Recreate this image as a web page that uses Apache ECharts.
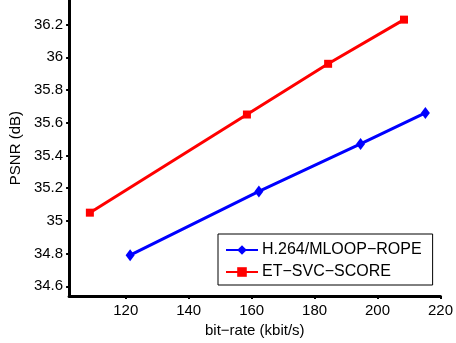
<!DOCTYPE html>
<html>
<head>
<meta charset="utf-8">
<script src="https://cdn.jsdelivr.net/npm/echarts@6/dist/echarts.min.js"></script>
<style>
  html, body { margin: 0; padding: 0; background: #fff; }
  #chart { width: 456px; height: 343px; }
</style>
</head>
<body>
<div id="chart"></div>
<script>
// values
const seriesNames = ['H.264/MLOOP\u2212ROPE', 'ET\u2212SVC\u2212SCORE']
const ropeRate = [121.4, 162.3, 194.6, 215.2]
const ropePsnr = [34.79, 35.18, 35.47, 35.66]
const scoreRate = [108.6, 158.5, 184.3, 208.4]
const scorePsnr = [35.05, 35.65, 35.96, 36.23]
const xTicks = [120, 140, 160, 180, 200, 220]
const yTicks = [34.6, 34.8, 35, 35.2, 35.4, 35.6, 35.8, 36, 36.2]

const font = 'Liberation Sans, Arial, Helvetica, sans-serif'

const chart = echarts.init(document.getElementById('chart'))

const pairs = (xs, ys) => xs.map((x, i) => [x, ys[i]])

const option = {
  animation: false,
  backgroundColor: '#fff',
  grid: { left: 69, right: 13, top: 0, bottom: 45 },
  xAxis: {
    type: 'value',
    min: 102,
    max: 220,
    name: 'bit\u2212rate (kbit/s)',
    nameLocation: 'middle',
    nameGap: 23,
    nameTextStyle: { color: '#000', fontSize: 15, fontFamily: font },
    splitLine: { show: false },
    axisLine: { show: true, onZero: false, lineStyle: { color: '#000', width: 3 } },
    axisTick: { show: true, length: 3, customValues: xTicks, lineStyle: { color: '#000', width: 2 } },
    axisLabel: { color: '#000', fontSize: 15, fontFamily: font, margin: 7, customValues: xTicks }
  },
  yAxis: {
    type: 'value',
    min: 34.54,
    max: 36.35,
    name: 'PSNR (dB)',
    nameLocation: 'middle',
    nameGap: 43,
    nameTextStyle: { color: '#000', fontSize: 15, fontFamily: font },
    splitLine: { show: false },
    axisLine: { show: true, onZero: false, lineStyle: { color: '#000', width: 3 } },
    axisTick: { show: true, length: 3, customValues: yTicks, lineStyle: { color: '#000', width: 2 } },
    axisLabel: {
      color: '#000',
      fontSize: 15,
      fontFamily: font,
      margin: 6,
      customValues: yTicks,
      formatter: (v) => `${+v.toFixed(1)}`
    }
  },
  legend: {
    orient: 'vertical',
    left: 218,
    top: 234,
    padding: [8, 11, 5, 7],
    itemGap: 6,
    itemWidth: 32,
    itemHeight: 12,
    borderColor: '#000',
    borderWidth: 1,
    backgroundColor: '#fff',
    textStyle: { color: '#000', fontSize: 16, fontFamily: font, padding: [0, 0, 0, -1] },
    data: seriesNames
  },
  series: [
    {
      name: seriesNames[0],
      type: 'line',
      data: pairs(ropeRate, ropePsnr),
      symbol: 'diamond',
      symbolSize: [9, 12],
      showAllSymbol: true,
      lineStyle: { color: '#0000ff', width: 3 },
      itemStyle: { color: '#0000ff' }
    },
    {
      name: seriesNames[1],
      type: 'line',
      data: pairs(scoreRate, scorePsnr),
      symbol: 'rect',
      symbolSize: 8,
      showAllSymbol: true,
      lineStyle: { color: '#ff0000', width: 3 },
      itemStyle: { color: '#ff0000' }
    }
  ]
}

chart.setOption(option)
</script>
</body>
</html>
